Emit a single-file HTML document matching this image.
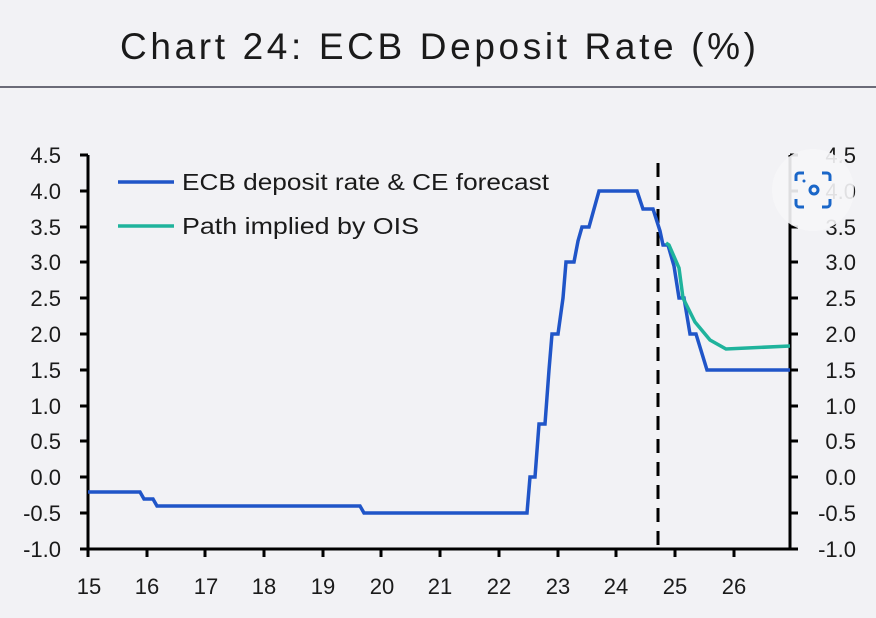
<!DOCTYPE html>
<html><head><style>
body{margin:0;background:#f2f2f5;}
svg{display:block;font-family:"Liberation Sans",sans-serif;}
</style></head><body>
<svg width="876" height="618" viewBox="0 0 876 618">
<rect width="876" height="618" fill="#f2f2f5"/>
<text x="120" y="59" font-size="37" fill="#1a1a1a" textLength="636" lengthAdjust="spacing">Chart 24: ECB Deposit Rate (%)</text>
<line x1="0" y1="87" x2="876" y2="87" stroke="#6b6b78" stroke-width="2"/>
<g stroke="#000" stroke-width="3" fill="none">
<line x1="88" y1="155" x2="88" y2="549"/>
<line x1="790" y1="155" x2="790" y2="549"/>
<line x1="80" y1="549" x2="798" y2="549"/>
</g>
<g stroke="#000" stroke-width="3">
<path d="M80 155H88M80 191H88M80 227H88M80 262H88M80 298H88M80 334H88M80 370H88M80 406H88M80 441H88M80 477H88M80 513H88"/>
<path d="M790 155H798M790 191H798M790 227H798M790 262H798M790 298H798M790 334H798M790 370H798M790 406H798M790 441H798M790 477H798M790 513H798"/>
<path d="M88 549V557M147 549V557M205 549V557M264 549V557M323 549V557M381 549V557M440 549V557M499 549V557M558 549V557M616 549V557M675 549V557M734 549V557"/>
</g>
<g font-size="22" fill="#1a1a1a" text-anchor="end">
<text x="61" y="163">4.5</text><text x="61" y="199">4.0</text><text x="61" y="235">3.5</text><text x="61" y="270">3.0</text><text x="61" y="306">2.5</text><text x="61" y="342">2.0</text><text x="61" y="378">1.5</text><text x="61" y="414">1.0</text><text x="61" y="449">0.5</text><text x="61" y="485">0.0</text><text x="61" y="521">-0.5</text><text x="61" y="557">-1.0</text>
</g>
<g font-size="22" fill="#1a1a1a" text-anchor="end">
<text x="856" y="163">4.5</text><text x="856" y="199">4.0</text><text x="856" y="235">3.5</text><text x="856" y="270">3.0</text><text x="856" y="306">2.5</text><text x="856" y="342">2.0</text><text x="856" y="378">1.5</text><text x="856" y="414">1.0</text><text x="856" y="449">0.5</text><text x="856" y="485">0.0</text><text x="856" y="521">-0.5</text><text x="856" y="557">-1.0</text>
</g>
<g font-size="22" fill="#1a1a1a" text-anchor="middle">
<text x="89" y="594">15</text><text x="147" y="594">16</text><text x="206" y="594">17</text><text x="264" y="594">18</text><text x="323" y="594">19</text><text x="382" y="594">20</text><text x="440" y="594">21</text><text x="499" y="594">22</text><text x="558" y="594">23</text><text x="616" y="594">24</text><text x="675" y="594">25</text><text x="734" y="594">26</text>
</g>
<line x1="658" y1="163" x2="658" y2="549" stroke="#000" stroke-width="3" stroke-dasharray="14,9"/>
<polyline fill="none" stroke="#2055c8" stroke-width="3.5" points="88,492 140,492 144,499 153,499 157,506 360,506 364,513 527,513 530,477 535,477 539,424 545,424 549,370 552,334 558,334 563,298 566,262 574,262 578,241 582,227 589,227 599,191 637,191 643,209 653,209 660,231 663,245 668,245 674,266 679,298 684,298 690,334 696,334 707,370 790,370"/>
<polyline fill="none" stroke="#1fb39c" stroke-width="3.5" points="666,243 669,245 679,268 683,298 695,322 710,340 726,349 790,346"/>
<line x1="118" y1="182" x2="174" y2="182" stroke="#2055c8" stroke-width="3.5"/>
<text x="182" y="190" font-size="23" fill="#1a1a1a" textLength="367" lengthAdjust="spacingAndGlyphs">ECB deposit rate &amp; CE forecast</text>
<line x1="118" y1="226" x2="174" y2="226" stroke="#1fb39c" stroke-width="3.5"/>
<text x="182" y="234" font-size="23" fill="#1a1a1a" textLength="237" lengthAdjust="spacingAndGlyphs">Path implied by OIS</text>
<circle cx="813" cy="190" r="41" fill="#f6f6f8" opacity="0.9"/>
<g fill="none" stroke="#1a66c8" stroke-width="3">
<path d="M796 181v-5a3 3 0 0 1 3-3h5M822 173h5a3 3 0 0 1 3 3v5M830 199v5a3 3 0 0 1-3 3h-5M804 207h-5a3 3 0 0 1-3-3v-5"/>
<circle cx="814" cy="190" r="4"/>
</g>
<circle cx="804" cy="181" r="1.5" fill="#1a66c8"/>
</svg>
</body></html>
